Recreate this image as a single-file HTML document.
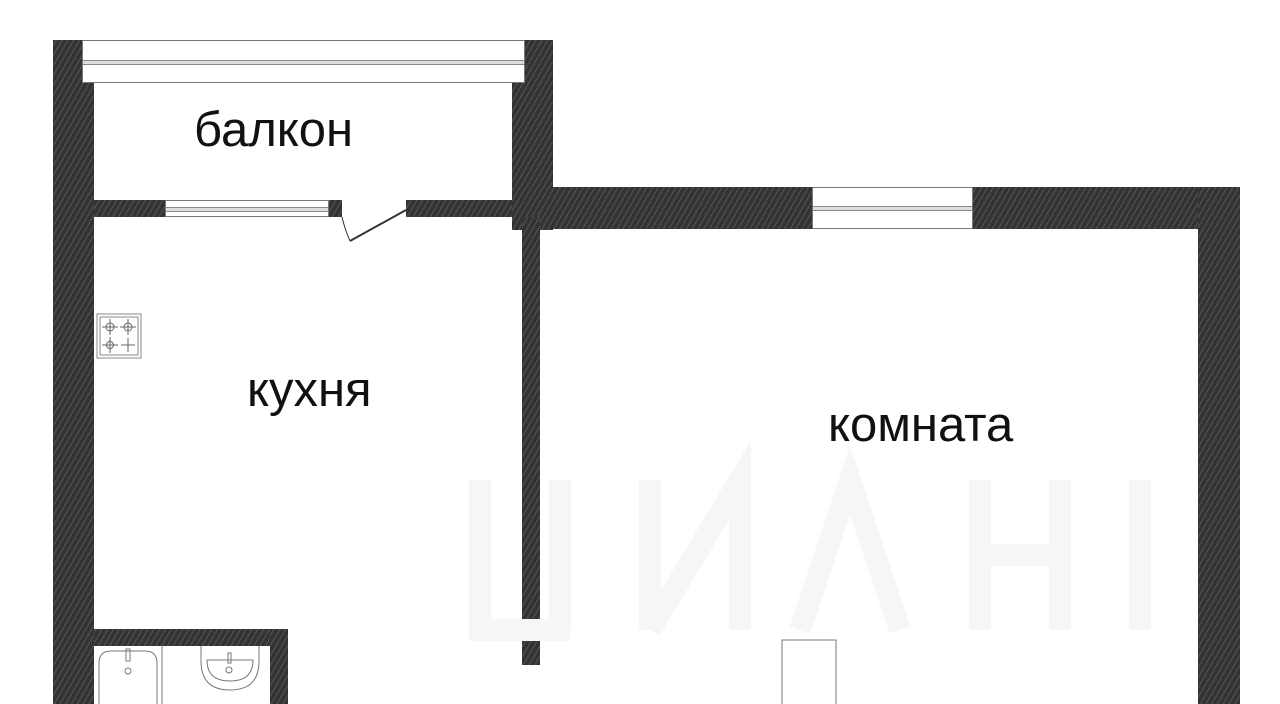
<!DOCTYPE html>
<html><head><meta charset="utf-8"><style>
body{margin:0;width:1280px;height:704px;background:#fff;position:relative;overflow:hidden;font-family:"Liberation Sans",sans-serif}
.w{position:absolute;background:#333 repeating-linear-gradient(-60deg,#333 0 4px,#555 4px 5px)}
.win{position:absolute;background:#fff;border:1px solid #777;box-sizing:border-box}
.win:after{content:"";position:absolute;left:0;right:0;top:50%;height:3px;margin-top:-2px;border-top:1px solid #888;border-bottom:1px solid #888;background:#ddd}
.t{position:absolute;font-size:49px;color:#111;white-space:nowrap}
</style></head><body>
<div class="w" style="left:53px;top:40px;width:41px;height:664px"></div>
<div class="w" style="left:512px;top:40px;width:41px;height:190px"></div>
<div class="w" style="left:94px;top:200px;width:428px;height:17px"></div>
<div class="w" style="left:512px;top:187px;width:728px;height:42px"></div>
<div class="w" style="left:522px;top:217px;width:18px;height:448px"></div>
<div class="w" style="left:1198px;top:187px;width:42px;height:517px"></div>
<div class="w" style="left:94px;top:629px;width:194px;height:17px"></div>
<div class="w" style="left:270px;top:629px;width:18px;height:75px"></div>
<div class="win" style="left:82px;top:40px;width:443px;height:43px"></div>
<div class="win" style="left:165px;top:200px;width:164px;height:17px"></div>
<div style="position:absolute;left:342px;top:200px;width:64px;height:18px;background:#fff"></div>
<div class="win" style="left:812px;top:187px;width:161px;height:42px"></div>
<svg width="1280" height="704" style="position:absolute;left:0;top:0">
<g fill="none" stroke="#f6f6f6" stroke-width="22">
<path d="M480 480v150h90M560 480v150M650 480v150M650 630l90-150v150M800 630l50-150 50 150M980 480v150M1060 480v150M980 555h80M1140 480v150"/>
</g>
<g fill="none" stroke="#333">
<line x1="406" y1="210" x2="350" y2="241" stroke-width="2"/>
<path d="M342 217 Q345 230 350 241" stroke-width="1"/>
<rect x="97" y="314" width="44" height="44" stroke="#888"/>
<rect x="100" y="317" width="38" height="38" stroke="#888"/>
<g stroke="#666"><circle cx="110" cy="327" r="4"/><circle cx="128" cy="327" r="4"/><circle cx="110" cy="345" r="3.5"/>
<path d="M102 327h16M110 319v16M120 327h16M128 319v16M102 345h16M110 337v16M121 345h14M128 338v14"/></g>
<g stroke="#777"><path d="M99 704V663q0-12 12-12h34q12 0 12 12v41"/><line x1="162" y1="646" x2="162" y2="704"/>
<path d="M201 646v15q0 29 29 29t29-29v-15"/><path d="M207 660q0 21 23 21t23-21z"/>
<circle cx="128" cy="671" r="3"/><circle cx="229" cy="670" r="3"/><rect x="126" y="649" width="4" height="12"/><rect x="228" y="653" width="3" height="10"/>
<rect x="782" y="640" width="54" height="70"/></g>
</g>
</svg>
<div class="t" style="left:194px;top:102px">балкон</div>
<div class="t" style="left:247px;top:362px">кухня</div>
<div class="t" style="left:828px;top:397px">комната</div>
</body></html>
